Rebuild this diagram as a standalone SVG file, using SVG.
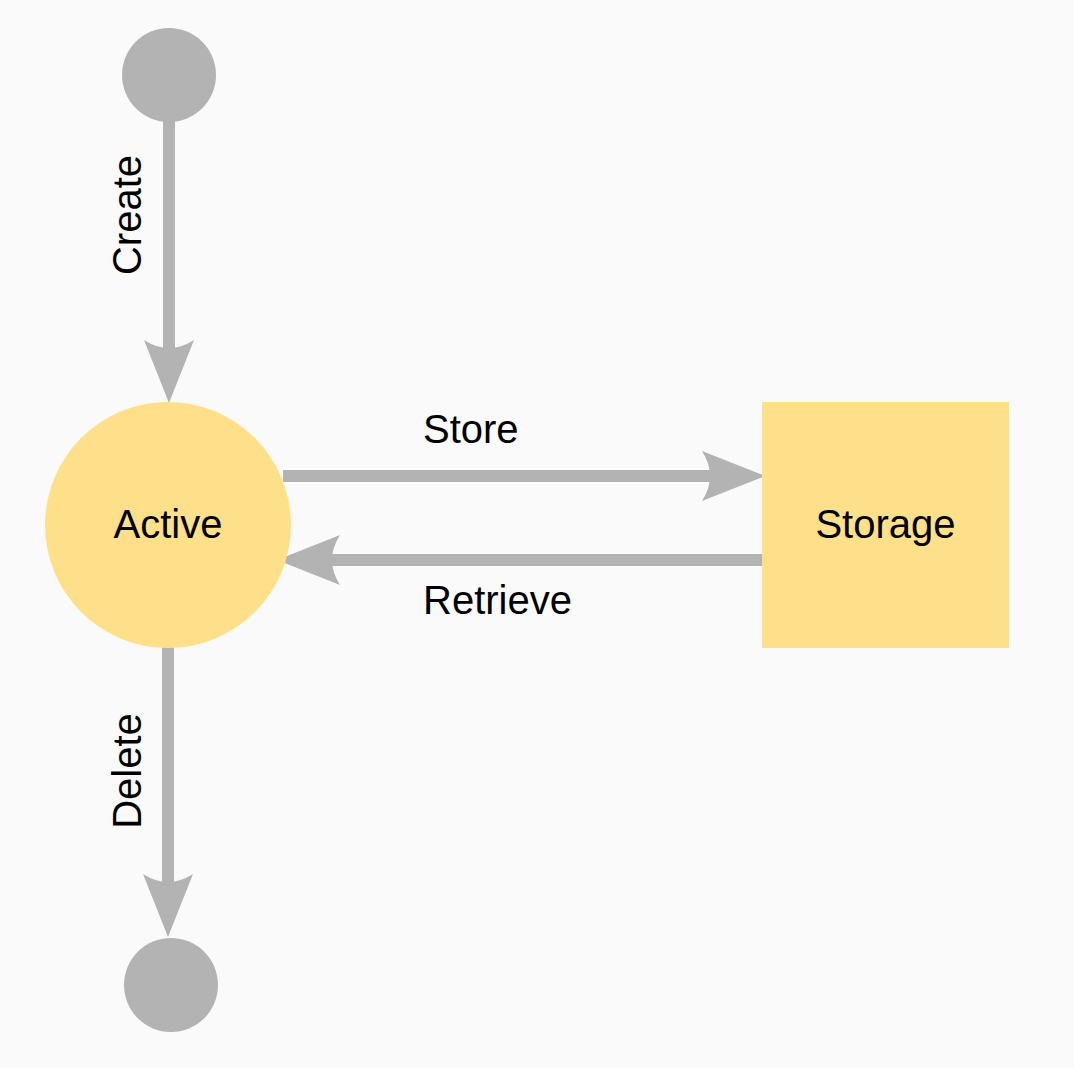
<svg xmlns="http://www.w3.org/2000/svg" width="1074" height="1068" viewBox="0 0 1074 1068">
  <defs>
    <style>
      .pseudo { fill: #b3b3b3; }
      .state { fill: #ffe08a; }
      .edge { stroke: #b3b3b3; stroke-width: 12; fill: none; }
      .lbl { font-family: "Liberation Sans", Arial, sans-serif; font-size: 40px; fill: #000; }
    </style>
    <marker id="arrow" markerUnits="userSpaceOnUse" viewBox="0 0 63 50" refX="10" refY="25" markerWidth="63" markerHeight="50" orient="auto">
      <path d="M0,0 L63,25 L0,50 Q16,25 0,0 Z" fill="#b3b3b3"/>
    </marker>
  </defs>
  <rect x="0" y="0" width="1074" height="1068" fill="#fafafa"/>

  <g id="connectors">
    <g id="edge-create">
      <path class="edge" d="M169,120 L169,350" marker-end="url(#arrow)"/>
      <text class="lbl" text-anchor="middle" transform="translate(141,215) rotate(-90)">Create</text>
    </g>
    <g id="edge-store">
      <path class="edge" d="M283,476 L712,476" marker-end="url(#arrow)"/>
      <text class="lbl" x="423" y="443">Store</text>
    </g>
    <g id="edge-retrieve">
      <path class="edge" d="M762,560 L330,560" marker-end="url(#arrow)"/>
      <text class="lbl" x="423" y="614">Retrieve</text>
    </g>
    <g id="edge-delete">
      <path class="edge" d="M168,646 L168,884" marker-end="url(#arrow)"/>
      <text class="lbl" text-anchor="middle" transform="translate(141,771) rotate(-90)">Delete</text>
    </g>
  </g>

  <g id="node-initial">
    <circle class="pseudo" cx="169" cy="75" r="47"/>
  </g>
  <g id="node-active">
    <circle class="state" cx="168" cy="525" r="123"/>
    <text class="lbl" x="168" y="538" text-anchor="middle">Active</text>
  </g>
  <g id="node-storage">
    <rect class="state" x="762" y="402" width="247" height="246"/>
    <text class="lbl" x="885.5" y="538" text-anchor="middle">Storage</text>
  </g>
  <g id="node-final">
    <circle class="pseudo" cx="171" cy="985" r="47"/>
  </g>
</svg>
